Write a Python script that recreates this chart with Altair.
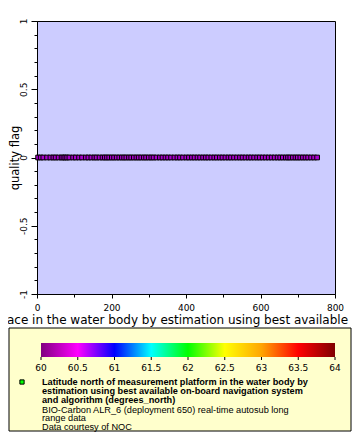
import altair as alt
import pandas as pd

# ---- data ----
x_vals = [3, 10, 17, 27, 36, 44, 50, 58, 66, 71, 76, 81, 87, 97, 104, 113, 121, 131, 138, 146,
          154, 160, 168, 176, 182, 188, 194, 201, 207, 214, 221, 228, 234, 240, 247, 253, 260,
          267, 273, 280, 287, 293, 300, 307, 313, 321, 330, 337, 345, 352, 360, 369, 377, 384,
          392, 401, 408, 416, 423, 431, 438, 446, 453, 460, 468, 476, 483, 491, 498, 506, 514,
          521, 529, 537, 545, 552, 560, 568, 575, 583, 591, 598, 606, 614, 622, 630, 638, 646,
          653, 660, 668, 674, 680, 687, 694, 700, 707, 714, 721, 728, 736, 744, 752]
q_vals = [0] * len(x_vals)

x_ticks = [0, 100, 200, 300, 400, 500, 600, 700, 800]
y_ticks = [-1, -0.9, -0.8, -0.7, -0.6, -0.5, -0.4, -0.3, -0.2, -0.1, 0,
           0.1, 0.2, 0.3, 0.4, 0.5, 0.6, 0.7, 0.8, 0.9, 1]

cb_values = [60, 60.5, 61, 61.5, 62, 62.5, 63, 63.5, 64]
cb_labels = ["60", "60.5", "61", "61.5", "62", "62.5", "63", "63.5", "64"]
cb_colors = ["#800080", "#ff00ff", "#0000ff", "#00ffff", "#00ff00",
             "#ffff00", "#ffa500", "#ff0000", "#800000"]

x_title = "ace in the water body by estimation using best available"
y_title = "quality flag"
legend_bold = ["Latitude north of measurement platform in the water body by",
               "estimation using best available on-board navigation system",
               "and algorithm (degrees_north)"]
legend_normal = ["BIO-Carbon ALR_6 (deployment 650) real-time autosub long",
                 "range data",
                 "Data courtesy of NOC"]

FONT = "DejaVu Sans"

df = pd.DataFrame({"x": x_vals, "q": q_vals})
cb_df = pd.DataFrame({"cb": cb_values, "lab": cb_labels})
bar_df = pd.DataFrame({"c0": [cb_values[0]], "c1": [cb_values[-1]]})
one = pd.DataFrame({"a": [0]})

cb_scale = alt.Scale(domain=[60, 64], range=[4, 298])

points = alt.Chart(df).mark_point(
    shape="square", filled=True, size=22, fill="#a800cc", stroke="black",
    strokeWidth=1, opacity=1
).encode(
    x=alt.X("x:Q", scale=alt.Scale(domain=[0, 800], nice=False, zero=False),
            axis=alt.Axis(values=x_ticks, title=x_title, titleFont=FONT, titleFontSize=12,
                          titleFontWeight="normal", titleColor="black",
                          titleX=140, titleY=29, titleBaseline="alphabetic",
                          labelFont=FONT, labelFontSize=9, labelColor="black",
                          labelPadding=5, labelExpr="datum.value % 200 == 0 ? datum.label : ''",
                          tickSize={"condition": {"test": "datum.value % 200 == 0", "value": 4}, "value": 3},
                          tickColor="black", domainColor="black", grid=False,
                          labelFlush=False, labelOverlap=False)),
    y=alt.Y("q:Q", scale=alt.Scale(domain=[-1, 1], nice=False, zero=False),
            axis=alt.Axis(values=y_ticks, title=y_title, titleFont=FONT, titleFontSize=11.5,
                          titleFontWeight="normal", titleColor="black",
                          titleX=-22, titleY=136.5, titleAngle=270, titleAlign="center",
                          titleBaseline="middle",
                          labelFont=FONT, labelFontSize=9, labelColor="black",
                          labelAngle=270, labelAlign="center", labelBaseline="bottom",
                          labelPadding=3,
                          labelExpr="abs(datum.value*2 - round(datum.value*2)) < 1e-6 ? '' + datum.value : ''",
                          tickSize={"condition": {"test": "abs(datum.value*2 - round(datum.value*2)) < 1e-6", "value": 6}, "value": 3},
                          tickColor="black", domainColor="black", grid=False,
                          labelFlush=False, labelOverlap=False)),
)

box = alt.Chart(one).mark_rect(fill="#ffffcc", stroke="black", strokeWidth=1).encode(
    x=alt.value(-28), x2=alt.value(314), y=alt.value(307), y2=alt.value(410)
)

bar = alt.Chart(bar_df).mark_rect(
    color=alt.LinearGradient(
        gradient="linear",
        stops=[alt.GradientStop(color=c, offset=i / (len(cb_colors) - 1)) for i, c in enumerate(cb_colors)],
        x1=0, x2=1, y1=0, y2=0)
).encode(
    x=alt.X("c0:Q", scale=cb_scale, axis=None),
    x2="c1:Q",
    y=alt.value(322), y2=alt.value(336)
)

cb_ticks = alt.Chart(cb_df).mark_rule(color="black", strokeWidth=1).encode(
    x=alt.X("cb:Q", scale=cb_scale, axis=None),
    y=alt.value(336), y2=alt.value(339)
)

cb_text = alt.Chart(cb_df).mark_text(
    font=FONT, fontSize=9, color="black", baseline="alphabetic", align="center"
).encode(
    x=alt.X("cb:Q", scale=cb_scale, axis=None),
    y=alt.value(350),
    text="lab:N"
)

sym = alt.Chart(one).mark_point(shape="square", filled=True, size=18, fill="#00ff00",
                                stroke="black", strokeWidth=1, opacity=1).encode(
    x=alt.value(-15), y=alt.value(361)
)

txt_bold = alt.Chart(one).mark_text(
    text=legend_bold, font="Liberation Sans", fontSize=9.2, fontWeight="bold",
    color="black", align="left", baseline="alphabetic", lineHeight=9
).encode(x=alt.value(5), y=alt.value(364))

txt_norm = alt.Chart(one).mark_text(
    text=legend_normal, font="Liberation Sans", fontSize=9.2,
    color="black", align="left", baseline="alphabetic", lineHeight=8.6
).encode(x=alt.value(5), y=alt.value(391.5))

chart = alt.layer(box, points, bar, cb_ticks, cb_text, sym, txt_bold, txt_norm).resolve_scale(
    x="independent"
).properties(
    width=298, height=273,
    autosize=alt.AutoSizeParams(type="none"),
    padding={"left": 29, "top": 13, "right": 17, "bottom": 138},
    background="white"
).configure_view(fill="#ccccff", stroke="black", strokeWidth=1)

chart.save("out.html", embed_options={"renderer": "svg", "actions": False})
